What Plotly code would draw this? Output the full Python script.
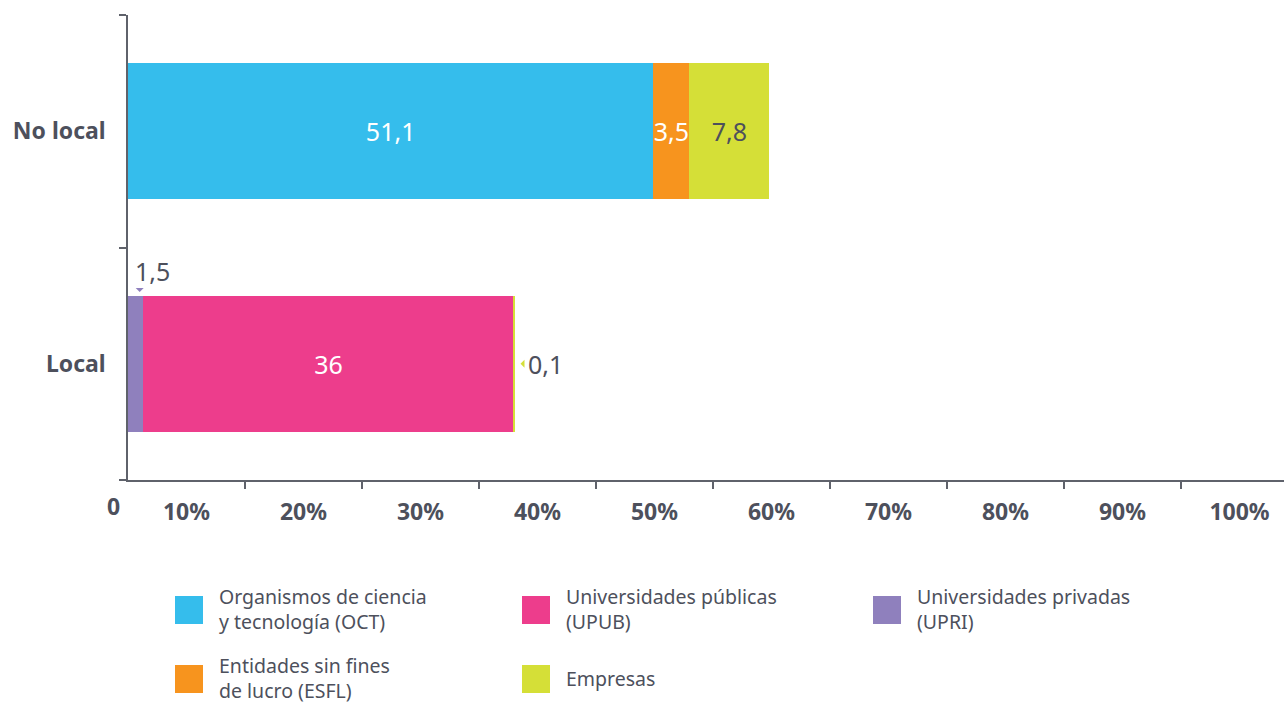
import plotly.graph_objects as go

# ---------------- data ----------------
categories = ["Local", "No local"]
series_names = [
    "Organismos de ciencia<br>y tecnología (OCT)",
    "Universidades privadas<br>(UPRI)",
    "Universidades públicas<br>(UPUB)",
    "Entidades sin fines<br>de lucro (ESFL)",
    "Empresas",
]
oct_vals = [None, 51.1]
upri_vals = [1.5, None]
upub_vals = [36, None]
esfl_vals = [None, 3.5]
emp_vals = [0.1, 7.8]
tick_labels = ["0", "10%", "20%", "30%", "40%", "50%", "60%", "70%", "80%", "90%", "100%"]

colors = ["#35BDEC", "#8F80BD", "#ED3D8C", "#F7941E", "#D5DF37"]
TEXT = "#4d505c"
AXIS = "#5f626b"
FONT = "Noto Sans"

# ---------------- layout geometry ----------------
W, H = 1284, 705
PL, PR, PT, PB = 128, 1284, 15, 480
PX_PER_UNIT = 10.28
XMAX = (PR - PL) / PX_PER_UNIT
TICK_STEP = 117 / PX_PER_UNIT


def px_x(px):
    return (px - PL) / (PR - PL)


def px_y(py):
    return (PB - py) / (PB - PT)


def fmt(v):
    return "" if v is None else f"{v:g}".replace(".", ",")


fig = go.Figure()
all_vals = [oct_vals, upri_vals, upub_vals, esfl_vals, emp_vals]
# which points get inside labels (others are annotated outside)
inside_mask = [[True, True], [False, False], [True, True], [True, True], [False, True]]
text_colors = ["white", "white", "white", "white", TEXT]

for name, vals, col, mask, tc in zip(series_names, all_vals, colors, inside_mask, text_colors):
    fig.add_trace(go.Bar(
        y=categories, x=vals, orientation="h", name=name,
        marker=dict(color=col, line=dict(width=0)),
        text=[fmt(v) if m else "" for v, m in zip(vals, mask)],
        textposition="inside", insidetextanchor="middle",
        constraintext="none", textangle=0,
        textfont=dict(family=FONT, size=25, color=tc),
        showlegend=False, hoverinfo="skip",
    ))

annotations = []
shapes = []

# outside labels: UPRI (above), Empresas local (right)
annotations.append(dict(x=upri_vals[0] / 2, y=px_y(271), xref="x", yref="paper",
                        text=fmt(upri_vals[0]), showarrow=False, xanchor="left", xshift=-3,
                        font=dict(family=FONT, size=25, color=TEXT)))
shapes.append(dict(type="path", xref="x", yref="paper",
                   xsizemode="pixel", ysizemode="pixel",
                   xanchor=upri_vals[0] / 2, yanchor=px_y(289),
                   path="M 0,1 L 8,1 L 4,-3 Z",
                   fillcolor=colors[1], line=dict(width=0)))
local_total = upri_vals[0] + upub_vals[0] + emp_vals[0]
shapes.append(dict(type="path", xref="x", yref="y",
                   xsizemode="pixel", ysizemode="pixel",
                   xanchor=local_total, yanchor=0,
                   path="M 10,-4 L 10,4 L 6,0 Z",
                   fillcolor=colors[4], line=dict(width=0)))
annotations.append(dict(x=local_total, y=categories[0], xref="x", yref="y",
                        text=fmt(emp_vals[0]), showarrow=False, xanchor="left", xshift=11,
                        font=dict(family=FONT, size=25, color=TEXT)))

# "0" tick label left of the axis
annotations.append(dict(x=px_x(122), y=px_y(506), xref="paper", yref="paper",
                        text=tick_labels[0], showarrow=False, xanchor="right", yanchor="middle",
                        font=dict(family=FONT, size=23, color=TEXT, weight="bold")))

# manual legend
legend_order = [0, 2, 1, 3, 4]
col_x = [175, 522, 873]
row_y = [596, 665]
SW = 28
for i, si in enumerate(legend_order):
    cx = col_x[i % 3]
    ry = row_y[i // 3]
    shapes.append(dict(type="rect", xref="paper", yref="paper",
                       x0=px_x(cx), x1=px_x(cx + SW), y0=px_y(ry + SW), y1=px_y(ry),
                       fillcolor=colors[si], line=dict(width=0)))
    annotations.append(dict(x=px_x(cx + SW + 15), y=px_y(ry + SW / 2 - 1),
                            xref="paper", yref="paper",
                            text=series_names[si], showarrow=False, xanchor="left", yanchor="middle",
                            align="left", borderpad=0,
                            font=dict(family=FONT, size=19.5, color=TEXT)))

label_pos = [TICK_STEP * (k - 0.5) for k in range(1, len(tick_labels))]
mark_pos = [TICK_STEP * k for k in range(1, len(tick_labels) - 1)]

fig.update_layout(
    width=W, height=H,
    margin=dict(l=PL, r=W - PR, t=PT, b=H - PB, autoexpand=False),
    barmode="stack", bargap=0.414,
    plot_bgcolor="white", paper_bgcolor="white",
    font=dict(family=FONT, color=TEXT),
    xaxis=dict(range=[0, XMAX], showgrid=False, zeroline=False,
               showline=True, linecolor=AXIS, linewidth=1.5,
               tickmode="array", tickvals=label_pos, ticktext=tick_labels[1:],
               ticks="outside", ticklen=7, tickcolor="rgba(0,0,0,0)",
               ticklabelstandoff=4,
               tickfont=dict(family=FONT, size=23, color=TEXT, weight="bold"),
               minor=dict(tickmode="array", tickvals=mark_pos, ticks="outside",
                          ticklen=7, tickwidth=1.5, tickcolor=AXIS, showgrid=False),
               automargin=False, fixedrange=True),
    yaxis=dict(type="category", categoryorder="array", categoryarray=categories,
               range=[-0.5, 1.5], showgrid=False, zeroline=False,
               showline=True, linecolor=AXIS, linewidth=1.5,
               ticks="outside", tickson="boundaries", ticklen=7, tickwidth=1.5, tickcolor=AXIS,
               ticklabelstandoff=16,
               tickfont=dict(family=FONT, size=23, color=TEXT, weight="bold"),
               automargin=False, fixedrange=True),
    annotations=annotations, shapes=shapes,
    showlegend=False,
)

fig.write_html("out.html", config={"displayModeBar": False},
               post_script="document.body.style.margin='0';document.body.style.padding='0';")
